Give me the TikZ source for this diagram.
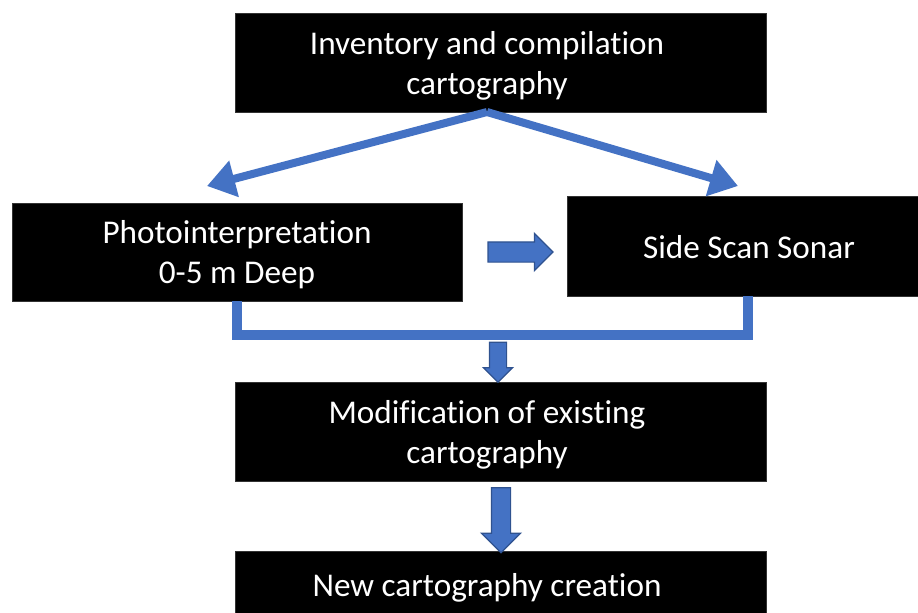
\documentclass[tikz,border=0pt]{standalone}
\usepackage{fontspec}
\setmainfont{Carlito}[Ligatures=NoCommon]
\usetikzlibrary{arrows.meta,shapes.arrows}
\definecolor{officeblue}{HTML}{4472C4}
\definecolor{edgeblue}{HTML}{2F528F}
\def\PX{0.75pt}
\tikzset{
  stagebox/.style={fill=black, draw=black!80, inner sep=0pt},
  stagetext/.style={text=white, align=center, inner sep=0pt,
    font=\fontsize{24.9}{30}\selectfont},
  flowline/.style={officeblue, line width=8*\PX,
    -{Triangle[width=36*\PX, length=28*\PX]}},
  mergeline/.style={officeblue, line width=10*\PX},
  blockarrow/.style={single arrow, fill=officeblue, draw=edgeblue,
    line width=1.2*\PX, single arrow tip angle=90},
}
\begin{document}
\begin{tikzpicture}[x=\PX, y=-\PX]
\useasboundingbox (0,0) rectangle (918,612);
\clip (0,0) rectangle (918,612);

% process boxes
\node[stagebox, minimum width=531*\PX, minimum height=99*\PX] (inv) at (500.5,62.5) {};
\node[stagebox, minimum width=450*\PX, minimum height=98*\PX] (photo) at (237,252) {};
\node[stagebox, minimum width=351*\PX, minimum height=100*\PX] (sonar) at (742.5,246) {};
\node[stagebox, minimum width=531*\PX, minimum height=99*\PX] (modif) at (500.5,431.5) {};
\node[stagebox, minimum width=531*\PX, minimum height=68*\PX] (newc) at (500.5,585) {};

% box captions
\node[stagetext] (invtext) at ([xshift=-13.5*\PX, yshift=-3*\PX]inv.center)
  {Inventory and compilation\\cartography};
\node[stagetext] (phototext) at ([yshift=-3*\PX]photo.center)
  {Photointerpretation\\0-5 m Deep};
\node[stagetext] (sonartext) at ([xshift=6.5*\PX, yshift=-1*\PX]sonar.center)
  {Side Scan Sonar};
\node[stagetext] (modiftext) at ([xshift=-13.5*\PX, yshift=-3*\PX]modif.center)
  {Modification of existing\\cartography};
\node[stagetext] (newctext) at ([xshift=-13.5*\PX, yshift=-3*\PX]newc.center)
  {New cartography creation};

% split from the inventory box
\coordinate (splitpt) at (487,112);
\coordinate (lefttip) at (207,186);
\coordinate (righttip) at (738,186);
\draw[flowline] (splitpt) -- (lefttip);
\draw[flowline] (splitpt) -- (righttip);

% photointerpretation feeds the sonar survey
\node[blockarrow, minimum height=65*\PX, minimum width=36*\PX, inner sep=9.5*\PX,
  single arrow head extend=8.5*\PX] (toSonar) at (515.5,252) {};

% both results merge
\coordinate (mergeL) at (237,335);
\draw[mergeline] (photo.south) -- (mergeL) -- (mergeL -| 748,0) -- (748,296);

\node[blockarrow, shape border rotate=270, minimum height=40*\PX, minimum width=28*\PX,
  inner sep=8*\PX, single arrow head extend=6*\PX] (toModif) at (498,358) {};

% final step
\node[blockarrow, shape border rotate=270, minimum height=65*\PX, minimum width=38*\PX,
  inner sep=9*\PX, single arrow head extend=10*\PX] (toNew) at (501,515.5) {};
\end{tikzpicture}
\end{document}
